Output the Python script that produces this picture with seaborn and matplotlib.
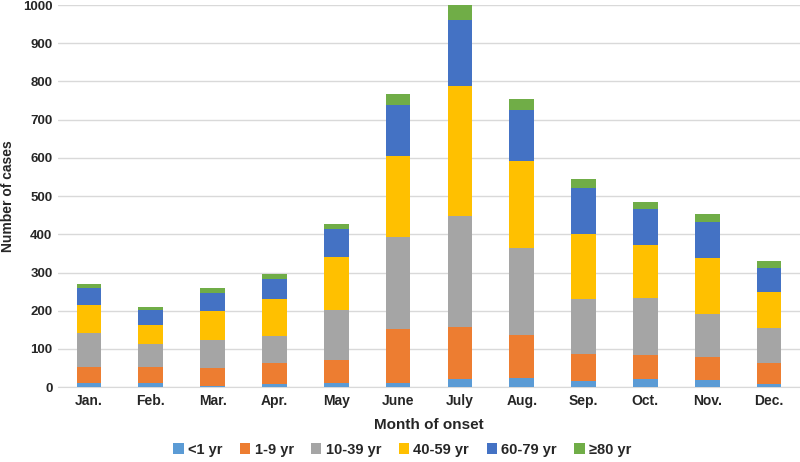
import numpy as np
import pandas as pd
import seaborn as sns
import matplotlib.pyplot as plt
from matplotlib.patches import Patch

months = ["Jan.", "Feb.", "Mar.", "Apr.", "May", "June", "July", "Aug.", "Sep.", "Oct.", "Nov.", "Dec."]
groups = ["<1 yr", "1-9 yr", "10-39 yr", "40-59 yr", "60-79 yr", "\u226580 yr"]

lt1 = [11, 11, 4, 9, 10, 12, 21, 25, 15, 21, 19, 7]
y1_9 = [41, 41, 46, 55, 61, 139, 137, 112, 71, 63, 60, 57]
y10_39 = [90, 61, 73, 71, 130, 243, 291, 228, 146, 150, 112, 90]
y40_59 = [72, 49, 76, 95, 139, 211, 338, 227, 170, 138, 146, 96]
y60_79 = [46, 40, 47, 52, 73, 134, 173, 134, 120, 95, 96, 61]
ge80 = [10, 9, 13, 14, 13, 29, 39, 29, 22, 18, 20, 19]

colors = ["#5B9BD5", "#ED7D31", "#A5A5A5", "#FFC000", "#4472C4", "#70AD47"]

sns.set_style("white")
plt.rcParams["font.family"] = ["Liberation Sans", "DejaVu Sans"]
plt.rcParams["font.weight"] = "bold"

fig = plt.figure(figsize=(8, 4.62), dpi=100)
ax = fig.add_axes([0.0725, 0.162, 0.9275, 0.827])

series = [lt1, y1_9, y10_39, y40_59, y60_79, ge80]
bottom = np.zeros(len(months))
for name, vals, col in zip(groups, series, colors):
    df = pd.DataFrame({"month": months, "cases": vals})
    sns.barplot(data=df, x="month", y="cases", order=months, color=col,
                saturation=1, width=0.4, bottom=bottom, ax=ax,
                linewidth=0, zorder=3)
    bottom = bottom + np.array(vals)

ax.set_ylim(0, 1000)
ax.set_xlim(-0.5, len(months) - 0.5)
ax.set_yticks(range(0, 1001, 100))
ax.yaxis.grid(True, color="#D9D9D9", linewidth=1, zorder=0)
ax.set_axisbelow(True)
for s in ["top", "right", "left"]:
    ax.spines[s].set_visible(False)
ax.spines["bottom"].set_color("#D9D9D9")
ax.tick_params(axis="x", length=0, labelsize=10, pad=5)
ax.tick_params(axis="y", length=0, labelsize=9.5, pad=4)
for lab in ax.get_xticklabels() + ax.get_yticklabels():
    lab.set_fontweight("bold")
ax.set_xlabel("Month of onset", fontsize=11, fontweight="bold", labelpad=7)
ax.set_ylabel("Number of cases", fontsize=10, fontweight="bold", labelpad=6)

handles = [Patch(facecolor=c, edgecolor="none") for c in colors]
fig.legend(handles, groups, loc="center", bbox_to_anchor=(0.503, 0.027), ncol=6,
           frameon=False, handlelength=0.7, handleheight=0.7,
           handletextpad=0.3, columnspacing=1.2, prop={"weight": "bold", "size": 10.5})

fig.savefig("out.png", dpi=100)
